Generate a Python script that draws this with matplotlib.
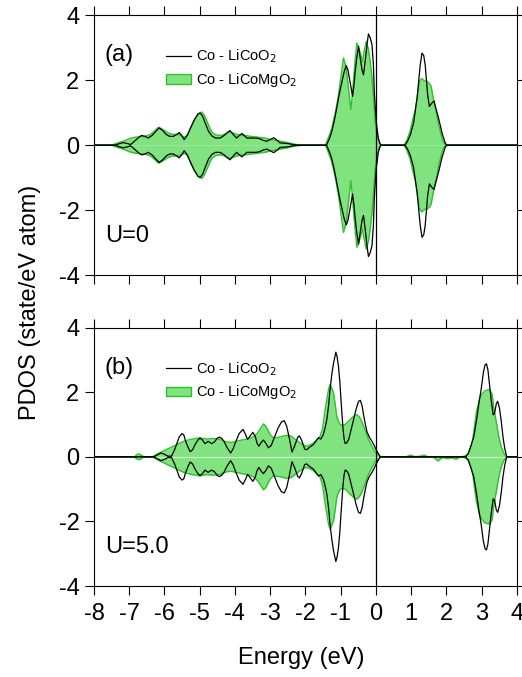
import matplotlib
matplotlib.use("Agg")
import matplotlib.pyplot as plt
import numpy as np
from matplotlib.lines import Line2D
from matplotlib.patches import Patch

plt.rcParams["font.family"] = ["Liberation Sans", "DejaVu Sans"]
plt.rcParams["axes.unicode_minus"] = False

# ---- data (spin-up half; spin-down is its mirror) ----
# panel (a), U=0, Co - LiCoO2
a_blk_e = [-8.0, -7.40, -7.30, -7.17, -7.05, -6.96, -6.85, -6.75, -6.65, -6.55, -6.46,
           -6.35, -6.25, -6.15, -6.05, -5.95, -5.85, -5.75, -5.65, -5.58, -5.50, -5.44,
           -5.35, -5.25, -5.15, -5.05, -4.99, -4.92, -4.85, -4.75, -4.65, -4.55, -4.42,
           -4.30, -4.20, -4.14, -4.05, -3.95, -3.87, -3.80, -3.72, -3.66, -3.55, -3.40,
           -3.30, -3.20, -3.10, -3.00, -2.90, -2.80, -2.72, -2.60, -2.50, -2.40, -2.30,
           -2.20, -1.40, -1.30, -1.25, -1.18, -1.11, -1.04, -0.96, -0.90, -0.84, -0.79,
           -0.75, -0.70, -0.66, -0.62, -0.585, -0.54, -0.49, -0.44, -0.39, -0.35, -0.30,
           -0.25, -0.21, -0.16, -0.11, -0.07, -0.045, 0.01, 0.07, 0.11, 0.15, 0.83, 0.90,
           0.98, 1.07, 1.17, 1.26, 1.31, 1.36, 1.40, 1.47, 1.52, 1.58, 1.65, 1.70, 1.78,
           1.88, 1.97, 2.02, 4.0]
a_blk_v = [0, 0, 0.04, 0.08, 0.05, 0.02, 0.12, 0.22, 0.30, 0.27, 0.22,
           0.30, 0.42, 0.53, 0.45, 0.33, 0.27, 0.27, 0.33, 0.39, 0.28, 0.17,
           0.30, 0.55, 0.78, 0.95, 0.99, 0.90, 0.70, 0.43, 0.28, 0.22, 0.22,
           0.30, 0.40, 0.45, 0.33, 0.22, 0.30, 0.36, 0.28, 0.22, 0.22, 0.22,
           0.20, 0.15, 0.12, 0.17, 0.23, 0.15, 0.07, 0.06, 0.05, 0.03, 0.01,
           0, 0, 0.25, 0.42, 0.75, 1.14, 1.55, 1.96, 2.25, 2.45, 2.30,
           2.06, 1.75, 1.50, 1.85, 2.27, 2.70, 3.04, 2.65, 2.30, 2.16, 2.60,
           3.10, 3.42, 3.30, 3.09, 2.50, 1.65, 0.73, 0.22, 0.07, 0, 0, 0.12,
           0.32, 0.68, 1.45, 2.47, 2.83, 2.75, 2.47, 1.55, 1.19, 1.28, 1.36, 1.15, 0.83,
           0.37, 0.06, 0, 0]

# panel (a), U=0, Co - LiCoMgO2
a_grn_e = [-8.0, -7.50, -7.40, -7.30, -7.20, -7.10, -7.00, -6.90, -6.80, -6.70, -6.60,
           -6.50, -6.40, -6.30, -6.22, -6.17, -6.10, -6.00, -5.90, -5.80, -5.70, -5.60,
           -5.50, -5.42, -5.35, -5.25, -5.15, -5.05, -4.94, -4.87, -4.80, -4.72, -4.65,
           -4.55, -4.45, -4.35, -4.25, -4.15, -4.05, -3.95, -3.85, -3.75, -3.60, -3.45,
           -3.30, -3.15, -3.00, -2.85, -2.70, -2.55, -2.40, -2.25, -2.10, -2.00, -1.43,
           -1.35, -1.25, -1.15, -1.06, -0.99, -0.92, -0.87, -0.83, -0.77, -0.71, -0.67,
           -0.63, -0.58, -0.54, -0.49, -0.44, -0.38, -0.33, -0.27, -0.21, -0.16, -0.11,
           -0.08, -0.02, 0.03, 0.07, 0.13, 0.80, 0.88, 0.97, 1.05, 1.12, 1.18, 1.24,
           1.30, 1.38, 1.46, 1.52, 1.57, 1.62, 1.67, 1.73, 1.78, 1.84, 1.89, 1.95, 1.99,
           4.0]
a_grn_v = [0, 0, 0.04, 0.08, 0.11, 0.15, 0.20, 0.23, 0.25, 0.26, 0.27,
           0.29, 0.33, 0.42, 0.50, 0.55, 0.52, 0.45, 0.38, 0.34, 0.33, 0.33,
           0.28, 0.25, 0.32, 0.55, 0.78, 0.96, 1.02, 0.92, 0.75, 0.55, 0.40,
           0.32, 0.30, 0.31, 0.36, 0.40, 0.38, 0.33, 0.31, 0.30, 0.28, 0.26,
           0.24, 0.22, 0.18, 0.15, 0.12, 0.09, 0.05, 0.02, 0.005, 0, 0,
           0.22, 0.52, 1.00, 1.55, 2.10, 2.68, 2.50, 2.27, 1.70, 1.09, 1.50,
           2.06, 2.70, 3.14, 3.00, 2.83, 2.57, 2.90, 3.19, 2.95, 2.57, 2.10,
           1.65, 0.73, 0.35, 0.16, 0, 0, 0.15, 0.42, 0.80, 1.09, 1.50, 1.96,
           2.05, 1.98, 1.96, 1.90, 1.81, 1.50, 1.24, 0.95, 0.63, 0.38, 0.16, 0.04, 0,
           0]

# panel (b), U=5.0, Co - LiCoO2
b_blk_e = [-8.0, -6.30, -6.20, -6.10, -6.00, -5.90, -5.80, -5.72, -5.64, -5.58, -5.50,
           -5.45, -5.40, -5.33, -5.27, -5.20, -5.13, -5.05, -4.99, -4.92, -4.85, -4.76,
           -4.66, -4.58, -4.50, -4.44, -4.37, -4.31, -4.22, -4.12, -4.05, -3.99, -3.88,
           -3.77, -3.70, -3.64, -3.57, -3.49, -3.42, -3.37, -3.32, -3.25, -3.19, -3.12,
           -3.05, -2.97, -2.88, -2.78, -2.68, -2.60, -2.53, -2.45, -2.38, -2.30, -2.22,
           -2.17, -2.10, -2.02, -1.96, -1.88, -1.77, -1.68, -1.63, -1.56, -1.49, -1.44,
           -1.39, -1.34, -1.30, -1.25, -1.20, -1.135, -1.10, -1.06, -1.02, -0.99, -0.96,
           -0.93, -0.90, -0.87, -0.82, -0.77, -0.70, -0.63, -0.56, -0.49, -0.44, -0.39,
           -0.35, -0.30, -0.25, -0.18, -0.11, -0.05, 0.01, 0.07, 0.13, 2.55, 2.62, 2.70,
           2.78, 2.86, 2.93, 2.99, 3.05, 3.10, 3.14, 3.18, 3.23, 3.28, 3.33, 3.37, 3.42,
           3.46, 3.51, 3.56, 3.61, 3.66, 3.71, 3.73, 4.0]
b_blk_v = [0, 0, 0.06, 0.12, 0.08, 0.02, 0.02, 0.20, 0.43, 0.62, 0.72,
           0.68, 0.49, 0.30, 0.16, 0.22, 0.38, 0.52, 0.58, 0.52, 0.41, 0.48,
           0.41, 0.46, 0.58, 0.61, 0.57, 0.48, 0.28, 0.12, 0.25, 0.43, 0.72,
           0.85, 0.70, 0.54, 0.64, 0.76, 0.62, 0.42, 0.33, 0.45, 0.52, 0.42,
           0.28, 0.35, 0.60, 0.88, 1.08, 1.12, 0.95, 0.55, 0.15, 0.35, 0.60,
           0.65, 0.50, 0.24, 0.22, 0.30, 0.38, 0.52, 0.59, 0.55, 0.69, 0.90,
           1.16, 1.60, 2.08, 2.55, 2.91, 3.24, 3.10, 2.80, 2.30, 1.78, 1.30,
           0.85, 0.55, 0.41, 0.44, 0.54, 0.85, 1.16, 1.48, 1.72, 1.75, 1.58,
           1.31, 1.02, 0.77, 0.60, 0.48, 0.36, 0.22, 0.10, 0, 0, 0.10, 0.35,
           0.62, 1.15, 1.70, 2.10, 2.60, 2.85, 2.88, 2.70, 2.20, 1.70, 1.30, 1.35, 1.65,
           1.72, 1.50, 1.10, 0.60, 0.25, 0.02, 0, 0]

# panel (b), U=5.0, Co - LiCoMgO2
b_grn_e = [-8.0, -6.85, -6.78, -6.72, -6.65, -6.58, -6.35, -6.25, -6.15, -6.03, -5.92,
           -5.84, -5.74, -5.65, -5.50, -5.37, -5.25, -5.15, -5.00, -4.90, -4.80, -4.70,
           -4.61, -4.50, -4.42, -4.33, -4.23, -4.10, -4.00, -3.85, -3.70, -3.55, -3.45,
           -3.35, -3.26, -3.19, -3.12, -3.05, -2.98, -2.90, -2.80, -2.70, -2.53, -2.40,
           -2.30, -2.15, -2.05, -1.96, -1.87, -1.77, -1.65, -1.58, -1.52, -1.49, -1.44,
           -1.39, -1.34, -1.30, -1.26, -1.20, -1.15, -1.11, -1.05, -1.01, -0.94, -0.87,
           -0.78, -0.68, -0.60, -0.54, -0.47, -0.40, -0.30, -0.21, -0.12, -0.03, 0.05,
           0.13, 2.45, 2.55, 2.64, 2.70, 2.75, 2.80, 2.85, 2.90, 2.94, 3.00, 3.08,
           3.16, 3.23, 3.30, 3.34, 3.39, 3.44, 3.48, 3.53, 3.58, 3.63, 3.70, 4.0]
b_grn_v = [0, 0, 0.07, 0.09, 0.05, 0, 0, 0.06, 0.12, 0.18, 0.24,
           0.28, 0.33, 0.38, 0.46, 0.51, 0.54, 0.56, 0.59, 0.57, 0.55, 0.56,
           0.57, 0.55, 0.54, 0.50, 0.46, 0.45, 0.47, 0.51, 0.54, 0.58, 0.64,
           0.75, 0.90, 1.02, 0.95, 0.79, 0.66, 0.59, 0.60, 0.62, 0.67, 0.64,
           0.55, 0.43, 0.36, 0.33, 0.37, 0.43, 0.55, 0.64, 0.85, 1.05, 1.45,
           1.78, 2.10, 2.24, 2.15, 1.98, 1.60, 1.26, 1.08, 1.00, 0.98, 1.00,
           1.10, 1.21, 1.28, 1.31, 1.24, 1.10, 0.82, 0.54, 0.35, 0.18, 0.08,
           0, 0, 0.04, 0.12, 0.30, 0.54, 0.95, 1.36, 1.60, 1.78, 1.93, 2.03,
           2.07, 2.08, 1.95, 1.57, 1.25, 0.95, 0.68, 0.43, 0.25, 0.12, 0, 0]

# small LiCoMgO2 features inside the gap of panel (b), spin up and spin down
b_gap_up_e = [0.85, 0.98, 1.10, 1.25, 1.37, 1.48]
b_gap_up_v = [0, 0.06, 0.01, 0.02, 0.06, 0]
b_gap_dn_e = [1.62, 1.76, 1.90, 2.05, 2.15, 2.28, 2.40]
b_gap_dn_v = [0, 0.13, 0.02, 0.06, 0.03, 0.08, 0]

x_ticks = [-8, -7, -6, -5, -4, -3, -2, -1, 0, 1, 2, 3, 4]
y_ticks = [-4, -2, 0, 2, 4]

FILL = "#80e380"
EDGE = "#2ec22e"
FS = 17


def draw_panel(ax, blk_e, blk_v, grn_e, grn_v, tag, u_text):
    ge = np.array(grn_e)
    gv = np.array(grn_v)
    be = np.array(blk_e)
    bv = np.array(blk_v)

    ax.fill_between(ge, 0, gv, color=FILL, lw=0, zorder=1)
    ax.fill_between(ge, 0, -gv, color=FILL, lw=0, zorder=1)
    ax.plot(ge, gv, color=EDGE, lw=1.0, zorder=2)
    ax.plot(ge, -gv, color=EDGE, lw=1.0, zorder=2)

    ax.plot(be, bv, color="black", lw=0.9, zorder=3)
    ax.plot(be, -bv, color="black", lw=0.9, zorder=3)

    ax.axvline(0, color="black", lw=0.9, zorder=4)

    ax.set_xlim(-8, 4)
    ax.set_ylim(-4, 4)
    ax.set_xticks(x_ticks)
    ax.set_yticks(y_ticks)
    ax.tick_params(direction="out", top=True, right=True, length=6.5, width=0.8,
                   labelsize=FS, pad=4)
    ax.tick_params(axis="x", pad=6)
    for s in ax.spines.values():
        s.set_linewidth(0.8)

    ax.text(0.026, 0.845, tag, transform=ax.transAxes, fontsize=FS,
            ha="left", va="center")
    ax.text(0.026, 0.152, u_text, transform=ax.transAxes, fontsize=FS,
            ha="left", va="center")

    handles = [Line2D([], [], color="black", lw=0.9),
               Patch(facecolor=FILL, edgecolor=EDGE, lw=1.0)]
    labels = ["Co - LiCoO$_2$", "Co - LiCoMgO$_2$"]
    ax.legend(handles, labels, loc="upper left", bbox_to_anchor=(0.17, 0.875),
              frameon=False, fontsize=10.5, handlelength=1.75, handleheight=0.6,
              handletextpad=0.3, labelspacing=0.4, borderpad=0, borderaxespad=0)


fig = plt.figure(figsize=(5.22, 6.77), dpi=100)
ax_a = fig.add_axes([0.180, 0.5933, 0.810, 0.3845])
ax_b = fig.add_axes([0.180, 0.1344, 0.810, 0.3816])

draw_panel(ax_a, a_blk_e, a_blk_v, a_grn_e, a_grn_v, "(a)", "U=0")
draw_panel(ax_b, b_blk_e, b_blk_v, b_grn_e, b_grn_v, "(b)", "U=5.0")

# faint seam at zero inside the filled area of panel (b)
bge = np.array(b_grn_e)
bgv = np.array(b_grn_v)
ax_b.plot(bge, np.where(bgv > 0, 0.0, np.nan), color="#d9f7d9", lw=0.8, zorder=2)

# gap features of panel (b)
ax_b.fill_between(b_gap_up_e, 0, b_gap_up_v, color=FILL, lw=0, zorder=1)
ax_b.plot(b_gap_up_e, b_gap_up_v, color=EDGE, lw=0.9, zorder=2)
ax_b.fill_between(b_gap_dn_e, 0, -np.array(b_gap_dn_v), color=FILL, lw=0, zorder=1)
ax_b.plot(b_gap_dn_e, -np.array(b_gap_dn_v), color=EDGE, lw=0.9, zorder=2)

ax_a.tick_params(labelbottom=False)

fig.text(0.057, 0.554, "PDOS (state/eV atom)", rotation=90, fontsize=FS,
         ha="center", va="center")
fig.text(0.578, 0.028, "Energy (eV)", fontsize=FS, ha="center", va="center")

fig.savefig("out.png", dpi=100)
